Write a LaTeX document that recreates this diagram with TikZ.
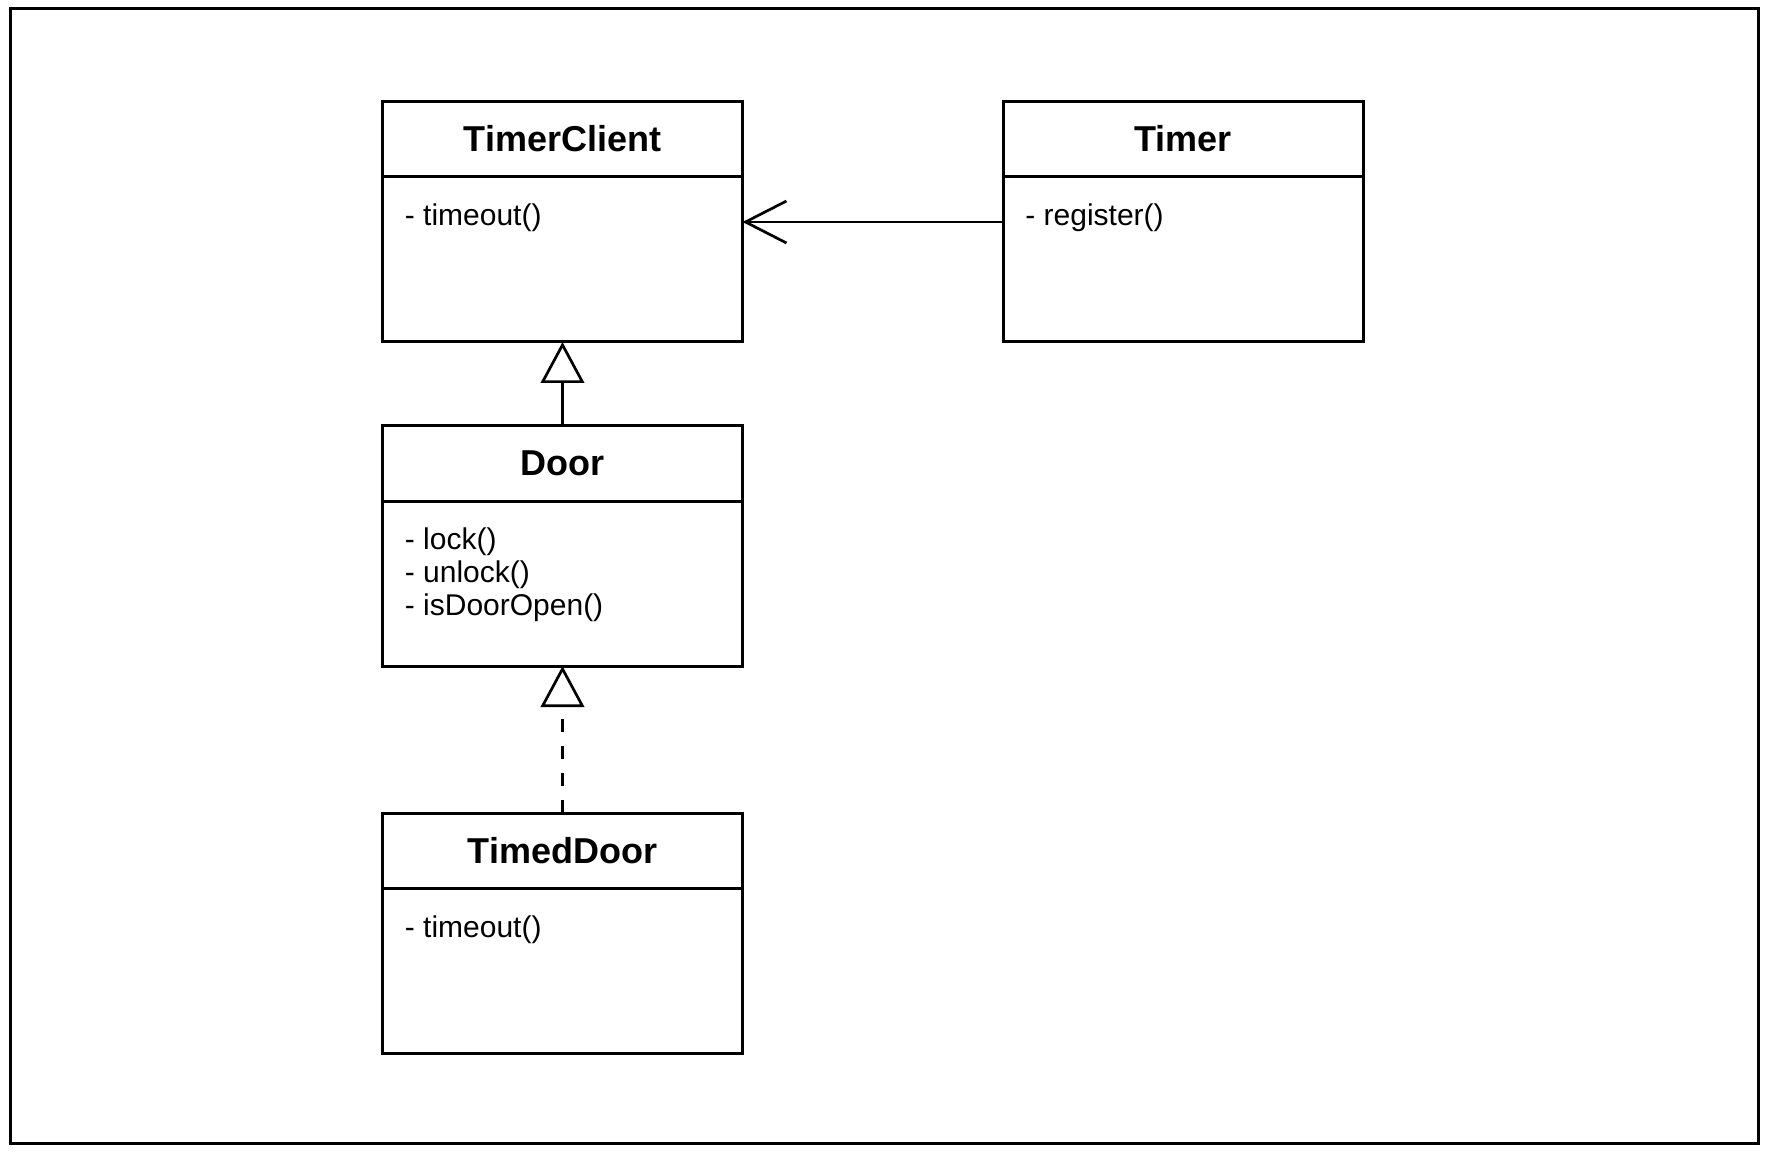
\documentclass[tikz,border=0pt]{standalone}
\usepackage{fontspec}
\setmainfont{Liberation Sans}
\usetikzlibrary{arrows.meta}
\begin{document}
\begin{tikzpicture}[x=0.5pt,y=-0.5pt,
  classbox/.style={draw, line width=1.5pt, minimum width=180pt, minimum height=120pt, inner sep=0pt, outer sep=0pt},
  divider/.style={line width=1.5pt},
  classtitle/.style={font=\bfseries\fontsize{18}{20}\selectfont, anchor=base, inner sep=0pt},
  member/.style={font=\fontsize{15}{16.5}\selectfont, anchor=base west, inner sep=0pt},
  conn/.style={line width=1.35pt},
  assoc/.style={conn, -{Straight Barb[length=20.5pt, width=21pt, line width=1.35pt]}},
  inherit/.style={conn, -{Triangle[open, length=20.5pt, width=21.7pt, line width=1.35pt]}},
  realize/.style={inherit, dash pattern=on 6.5pt off 7pt}
]
\useasboundingbox (0,0) rectangle (1770,1154);
\draw[line width=1.5pt] (10.5,8.2) rectangle (1758,1143.5);

% TimerClient
\node[classbox] (tc) at (562.5,222) {};
\draw[divider] ([yshift=-37.5pt]tc.north west) -- ([yshift=-37.5pt]tc.north east);
\node[classtitle] (tct) at ([yshift=-25pt]tc.north) {TimerClient};
\node[member] (tcm1) at ([xshift=11pt,yshift=-62pt]tc.north west) {- timeout()};

% Timer
\node[classbox] (tm) at (1183,222) {};
\draw[divider] ([yshift=-37.5pt]tm.north west) -- ([yshift=-37.5pt]tm.north east);
\node[classtitle] (tmt) at ([yshift=-25pt]tm.north) {Timer};
\node[member] (tmm1) at ([xshift=11pt,yshift=-62pt]tm.north west) {- register()};

% Door
\node[classbox] (dr) at (562.5,546) {};
\draw[divider] ([yshift=-37.5pt]dr.north west) -- ([yshift=-37.5pt]dr.north east);
\node[classtitle] (drt) at ([yshift=-24.5pt]dr.north) {Door};
\node[member] (drm1) at ([xshift=11pt,yshift=-61.5pt]dr.north west) {- lock()};
\node[member] (drm2) at ([xshift=11pt,yshift=-78pt]dr.north west) {- unlock()};
\node[member] (drm3) at ([xshift=11pt,yshift=-94.5pt]dr.north west) {- isDoorOpen()};

% TimedDoor
\node[classbox] (td) at (562.5,933) {};
\draw[divider] ([yshift=-37.5pt]td.north west) -- ([yshift=-37.5pt]td.north east);
\node[classtitle] (tdt) at ([yshift=-25pt]td.north) {TimedDoor};
\node[member] (tdm1) at ([xshift=11pt,yshift=-62pt]td.north west) {- timeout()};

% connectors
\draw[assoc] (tm.west) -- (tc.east);
\draw[inherit] (dr.north) -- (tc.south);
\draw[realize] (td.north) -- (dr.south);
\end{tikzpicture}
\end{document}
